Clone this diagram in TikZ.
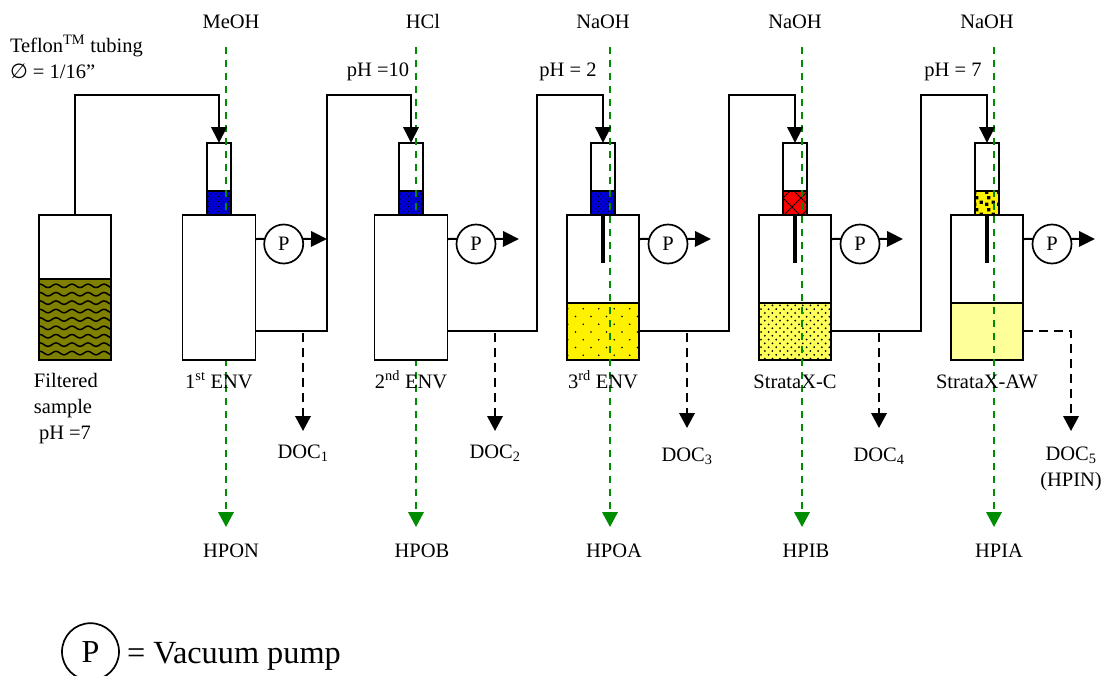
\documentclass[tikz,border=0pt]{standalone}
\usepackage{fontspec}
\setmainfont{Liberation Serif}
\newfontfamily\symfont{DejaVu Sans}
\usetikzlibrary{positioning,arrows.meta,patterns}

\definecolor{sampleolive}{RGB}{128,128,0}
\definecolor{fritblue}{RGB}{0,0,215}
\definecolor{bedpale}{RGB}{255,255,153}
\definecolor{bedmid}{RGB}{255,255,90}
\definecolor{solventgreen}{RGB}{0,140,0}

% fill patterns of the sorbents
\pgfdeclarepatternformonly{samplewave}{\pgfpoint{-1pt}{-1pt}}{\pgfpoint{17pt}{9.4pt}}{\pgfpoint{16pt}{8.4pt}}{
	\pgfsetlinewidth{1.5pt}
	\pgfpathmoveto{\pgfpoint{0pt}{1pt}}
	\pgfpathcurveto{\pgfpoint{3pt}{1pt}}{\pgfpoint{5pt}{4.5pt}}{\pgfpoint{8pt}{4.5pt}}
	\pgfpathcurveto{\pgfpoint{11pt}{4.5pt}}{\pgfpoint{13pt}{1pt}}{\pgfpoint{16pt}{1pt}}
	\pgfusepath{stroke}}
\pgfdeclarepatternformonly{fritdots}{\pgfpoint{-1pt}{-1pt}}{\pgfpoint{6pt}{6pt}}{\pgfpoint{5pt}{5pt}}{
	\pgfpathcircle{\pgfpoint{1pt}{1pt}}{0.7pt}
	\pgfpathcircle{\pgfpoint{3.5pt}{3.5pt}}{0.7pt}
	\pgfusepath{fill}}
\pgfdeclarepatternformonly{sparsedots}{\pgfpoint{-1pt}{-1pt}}{\pgfpoint{16pt}{16pt}}{\pgfpoint{15.5pt}{15.5pt}}{
	\pgfpathcircle{\pgfpoint{2pt}{2pt}}{0.9pt}
	\pgfpathcircle{\pgfpoint{9.75pt}{9.75pt}}{0.9pt}
	\pgfusepath{fill}}
\pgfdeclarepatternformonly{densedots}{\pgfpoint{-1pt}{-1pt}}{\pgfpoint{8pt}{8pt}}{\pgfpoint{7.6pt}{7.6pt}}{
	\pgfpathcircle{\pgfpoint{1pt}{1pt}}{1pt}
	\pgfpathcircle{\pgfpoint{4.8pt}{4.8pt}}{1pt}
	\pgfusepath{fill}}
\pgfdeclarepatternformonly{fritcross}{\pgfpoint{-1pt}{-1pt}}{\pgfpoint{19pt}{19pt}}{\pgfpoint{18pt}{18pt}}{
	\pgfsetlinewidth{0.9pt}
	\pgfpathmoveto{\pgfpoint{0pt}{0pt}}\pgfpathlineto{\pgfpoint{18pt}{18pt}}
	\pgfpathmoveto{\pgfpoint{0pt}{18pt}}\pgfpathlineto{\pgfpoint{18pt}{0pt}}
	\pgfusepath{stroke}}
\pgfdeclarepatternformonly{fritgrains}{\pgfpoint{-1pt}{-1pt}}{\pgfpoint{13pt}{13pt}}{\pgfpoint{12pt}{12pt}}{
	\pgfpathrectangle{\pgfpoint{1pt}{1pt}}{\pgfpoint{3.4pt}{3.4pt}}
	\pgfpathrectangle{\pgfpoint{7.5pt}{3pt}}{\pgfpoint{3.4pt}{3.4pt}}
	\pgfpathrectangle{\pgfpoint{3pt}{7.5pt}}{\pgfpoint{3.4pt}{3.4pt}}
	\pgfusepath{fill}}

\tikzset{
	every node/.style={font=\fontsize{20.5}{26}\selectfont,inner sep=0pt,outer sep=0pt},
	vessel/.style={draw,line width=2pt,fill=white,rectangle},
	bottlebox/.style={vessel,minimum width=72pt,minimum height=145pt},
	columnbox/.style={vessel,minimum width=72.5pt,minimum height=145pt},
	plaincolumn/.style={columnbox,line width=1.4pt},
	tubebox/.style={vessel,minimum width=24pt,minimum height=72pt},
	fritbox/.style={vessel,minimum width=24pt,minimum height=24pt,anchor=south},
	bedbox/.style={vessel,minimum width=72.5pt,minimum height=57pt,anchor=south},
	pumpcircle/.style={draw,circle,line width=1.7pt,fill=white,minimum size=39pt},
	pipe/.style={line width=2pt},
	inlet/.style={pipe,-{Triangle[length=16pt,width=15.5pt]}},
	waste/.style={pipe,dash pattern=on 9pt off 6pt},
	wastearrow/.style={waste,-{Triangle[length=15pt,width=15.5pt]}},
	solvent/.style={line width=2pt,solventgreen,dash pattern=on 7pt off 6pt,-{Triangle[length=15pt,width=15.5pt]}},
	stem/.style={line width=3.6pt},
	tag/.style={anchor=base}
}

\begin{document}
\begin{tikzpicture}[x=1pt,y=-1pt]
	\path[use as bounding box] (0,0) rectangle (1103,675);

	% sample bottle
	\node[bottlebox,anchor=north west] (bottle) at (39,215) {};
	\node[vessel,minimum width=72pt,minimum height=81pt,anchor=south,preaction={fill=sampleolive},pattern=samplewave] (sample) at (bottle.south) {};

	% cartridges on top
	\node[tubebox] (tube1) at (219,179) {};
	\node[tubebox] (tube2) at (411,179) {};
	\node[tubebox] (tube3) at (603,179) {};
	\node[tubebox] (tube4) at (795,179) {};
	\node[tubebox] (tube5) at (987,179) {};
	\node[fritbox,preaction={fill=fritblue},pattern=fritdots] (frit1) at (tube1.south) {};
	\node[fritbox,preaction={fill=fritblue},pattern=fritdots] (frit2) at (tube2.south) {};
	\node[fritbox,preaction={fill=fritblue},pattern=fritdots] (frit3) at (tube3.south) {};
	\node[fritbox,preaction={fill=red},pattern=fritcross] (frit4) at (tube4.south) {};
	\node[fritbox,preaction={fill=yellow},pattern=fritgrains] (frit5) at (tube5.south) {};

	% columns with a bed
	\node[columnbox,below=0pt of tube3] (col3) {};
	\node[columnbox,below=0pt of tube4] (col4) {};
	\node[columnbox,below=0pt of tube5] (col5) {};
	\node[bedbox,preaction={fill=yellow},pattern=sparsedots] (bed3) at (col3.south) {};
	\node[bedbox,preaction={fill=bedmid},pattern=densedots] (bed4) at (col4.south) {};
	\node[bedbox,fill=bedpale] (bed5) at (col5.south) {};
	\coordinate (stemend3) at (603,263);
	\coordinate (stemend4) at (795,263);
	\coordinate (stemend5) at (987,263);
	\draw[stem] (frit3.south) -- (stemend3);
	\draw[stem] (frit4.south) -- (stemend4);
	\draw[stem] (frit5.south) -- (stemend5);

	% solvents
	\coordinate (gtop1) at (226,47);
	\coordinate (gtop2) at (416,47);
	\coordinate (gtop3) at (610,47);
	\coordinate (gtop4) at (802,47);
	\coordinate (gtop5) at (994,47);
	\coordinate (gend1) at (226,527);
	\coordinate (gend2) at (416,527);
	\coordinate (gend3) at (610,527);
	\coordinate (gend4) at (802,527);
	\coordinate (gend5) at (994,527);
	\path[solvent] (gtop1) edge (gend1)
	(gtop2) edge (gend2)
	(gtop3) edge (gend3)
	(gtop4) edge (gend4)
	(gtop5) edge (gend5);

	% these two hide the solvent line
	\node[plaincolumn,below=0pt of tube1] (col1) {};
	\node[plaincolumn,below=0pt of tube2] (col2) {};

	% tubing
	\coordinate (rise0) at (75,95);
	\coordinate (rise1) at (327,95);
	\coordinate (rise2) at (537,95);
	\coordinate (rise3) at (729,95);
	\coordinate (rise4) at (921,95);
	\coordinate (out1) at (256,331);
	\coordinate (out2) at (448,331);
	\coordinate (out3) at (640,331);
	\coordinate (out4) at (832,331);
	\coordinate (out5) at (1024,331);
	\draw[inlet] (bottle.north) -- (rise0) -| (tube1.north);
	\draw[inlet] (out1) -| (rise1) -| (tube2.north);
	\draw[inlet] (out2) -| (rise2) -| (tube3.north);
	\draw[inlet] (out3) -| (rise3) -| (tube4.north);
	\draw[inlet] (out4) -| (rise4) -| (tube5.north);

	% pumps
	\node[pumpcircle] (pump1) at (283.7,244) {P};
	\node[pumpcircle] (pump2) at (476,244) {P};
	\node[pumpcircle] (pump3) at (668,244) {P};
	\node[pumpcircle] (pump4) at (860,244) {P};
	\node[pumpcircle] (pump5) at (1052,244) {P};
	\coordinate (stub1) at (256,239);
	\coordinate (stub2) at (448,239);
	\coordinate (stub3) at (640,239);
	\coordinate (stub4) at (832,239);
	\coordinate (stub5) at (1024,239);
	\coordinate (tip1) at (327,239);
	\coordinate (tip2) at (519,239);
	\coordinate (tip3) at (711,239);
	\coordinate (tip4) at (903,239);
	\coordinate (tip5) at (1095,239);
	\path[pipe] (stub1) edge (pump1.165)
	(stub2) edge (pump2.165)
	(stub3) edge (pump3.165)
	(stub4) edge (pump4.165)
	(stub5) edge (pump5.165);
	\path[inlet] (pump1.15) edge (tip1)
	(pump2.15) edge (tip2)
	(pump3.15) edge (tip3)
	(pump4.15) edge (tip4)
	(pump5.15) edge (tip5);

	% waste lines
	\coordinate (dtop1) at (303,333);
	\coordinate (dtop2) at (495,333);
	\coordinate (dtop3) at (687,333);
	\coordinate (dtop4) at (879,333);
	\coordinate (dend1) at (303,431);
	\coordinate (dend2) at (495,431);
	\coordinate (dend3) at (687,428);
	\coordinate (dend4) at (879,428);
	\coordinate (dend5) at (1071,431);
	\path[wastearrow] (dtop1) edge (dend1)
	(dtop2) edge (dend2)
	(dtop3) edge (dend3)
	(dtop4) edge (dend4);
	\draw[wastearrow] (out5) -| (dend5);

	% labels on top
	\node[tag] (meoh) at (231,28.5) {MeOH};
	\node[tag] (hcl) at (423,28.5) {HCl};
	\node[tag] (naoha) at (603,28.5) {NaOH};
	\node[tag] (naohb) at (795,28.5) {NaOH};
	\node[tag] (naohc) at (987,28.5) {NaOH};
	\node[anchor=base west] (teflon) at (10,52) {Teflon\textsuperscript{TM} tubing};
	\node[anchor=base west] (bore) at (10,78) {{\symfont ∅} = 1/16”};
	\node[tag] (pha) at (378,76) {pH =10};
	\node[tag] (phb) at (568,76) {pH = 2};
	\node[tag] (phc) at (953,76) {pH = 7};

	% labels below the columns
	\node[anchor=base west] (filtered) at (34,387) {Filtered};
	\node[anchor=base west] (samplename) at (34,413) {sample};
	\node[anchor=base west] (phsample) at (39,439) {pH =7};
	\node[tag] (enva) at (219,388) {1\textsuperscript{st} ENV};
	\node[tag] (envb) at (411,388) {2\textsuperscript{nd} ENV};
	\node[tag] (envc) at (603,388) {3\textsuperscript{rd} ENV};
	\node[tag] (stratac) at (795,388) {StrataX-C};
	\node[tag] (strataaw) at (987,388) {StrataX-AW};

	\node[tag] (doca) at (303,458) {DOC\textsubscript{1}};
	\node[tag] (docb) at (495,458) {DOC\textsubscript{2}};
	\node[tag] (docc) at (687,461) {DOC\textsubscript{3}};
	\node[tag] (docd) at (879,461) {DOC\textsubscript{4}};
	\node[tag] (doce) at (1071,460) {DOC\textsubscript{5}};
	\node[tag] (hpin) at (1071,486) {(HPIN)};

	\node[tag] (hpon) at (231,557) {HPON};
	\node[tag] (hpob) at (422,557) {HPOB};
	\node[tag] (hpoa) at (614,557) {HPOA};
	\node[tag] (hpib) at (806,557) {HPIB};
	\node[tag] (hpia) at (999,557) {HPIA};

	% legend
	\node[pumpcircle,minimum size=57pt,font=\fontsize{32}{36}\selectfont] (legendpump) at (90.5,651.7) {P};
	\node[anchor=base west,font=\fontsize{32.3}{36}\selectfont] (legendtext) at (127,663) {= Vacuum pump};
\end{tikzpicture}
\end{document}
